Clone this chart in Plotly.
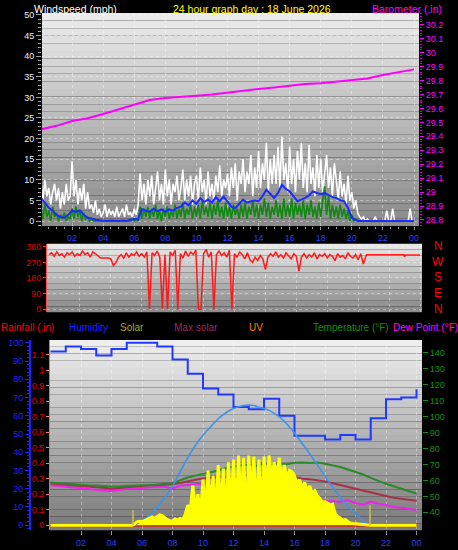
import plotly.graph_objects as go

W, H = 458, 550
def fx(p): return p / W
def fy(p): return 1 - p / H

# ------------------------------------------------------------------ DATA
hour_ticks = [2, 4, 6, 8, 10, 12, 14, 16, 18, 20, 22, 24]
hour_tick_text = ["02", "04", "06", "08", "10", "12", "14", "16", "18", "20", "22", "00"]

# barometer (inHg), hourly 0..24
baro_hours = list(range(25))
baro_in = [29.45, 29.475, 29.51, 29.53, 29.56, 29.595, 29.63, 29.66, 29.675, 29.68,
           29.69, 29.70, 29.715, 29.73, 29.74, 29.75, 29.765, 29.775, 29.78, 29.79,
           29.80, 29.815, 29.84, 29.86, 29.88]

# wind gust (mph), 8 samples per hour
gust_mph = [9, 5, 10, 6, 8, 4, 7, 9,
            5, 8, 3, 7, 4, 9, 5, 6,
            14.5, 6, 10, 4, 8, 5, 9, 3,
            7, 3, 4, 2, 5, 1.5, 3, 1,
            2, 4, 1, 3, 1.5, 2.5, 1, 3.5,
            1, 2, 3, 1, 4, 1.5, 2, 1,
            3, 1.5, 4, 11.5, 5, 9, 4, 10,
            6, 11, 4, 8, 12, 5, 9, 4,
            12.5, 6, 10, 4, 9, 7, 11, 5,
            8, 12.5, 5, 10, 6, 11, 4, 9,
            11, 5, 13, 7, 10, 4, 12, 6,
            9, 5, 11, 7, 13.5, 6, 10, 8,
            11.5, 6, 13, 8, 14, 5, 12, 9,
            15, 7, 12, 9, 16, 6, 13, 8,
            17, 8, 14, 10, 19, 7, 15, 9,
            16, 9, 18, 8, 20.5, 10, 14, 7,
            18, 9, 15, 7, 17, 10, 19, 8,
            14, 7, 18.5, 9, 13, 6, 16, 8,
            15, 7, 12, 16, 8, 13, 6, 14,
            10, 5, 12, 6, 9, 4, 11, 5,
            7, 3, 5, 2, 1, 0.5, 1, 0,
            0.5, 0, 0, 0, 1, 0, 0, 0,
            0, 0, 2.5, 0, 0, 3, 0, 0,
            0, 0, 0, 0, 0, 0, 3, 0,
            0]

# wind speed (mph), 8 samples per hour
wind_speed_mph = [3, 0.5, 4, 1, 2.5, 0, 3.5, 1,
                  2, 0, 1.5, 0.5, 2, 0, 1, 0.5,
                  3, 0.5, 3.5, 1, 2.5, 0, 2, 0.5,
                  1, 0, 0.5, 0, 0, 0, 0, 0,
                  0, 0, 0, 0, 0, 0, 0, 0,
                  0, 0, 0, 0, 0, 0, 0, 0.5,
                  0, 0.5, 0, 3.5, 0.5, 3, 1, 3.5,
                  0.5, 3, 1, 4, 0.5, 2.5, 0, 3,
                  1, 3.5, 0.5, 2.5, 1, 4, 0.5, 3,
                  1, 4.5, 0.5, 3, 1.5, 4, 0.5, 3.5,
                  1, 4, 0.5, 5, 1.5, 3.5, 1, 4.5,
                  0.5, 4, 1.5, 5, 1, 3.5, 0.5, 4.5,
                  1, 3.5, 0.5, 4, 1.5, 3, 0.5, 4,
                  1, 4.5, 0.5, 3.5, 1.5, 5, 1, 4,
                  0.5, 4, 1.5, 5.5, 1, 4.5, 0.5, 3.5,
                  1.5, 5, 1, 4, 0.5, 5.5, 1, 4,
                  1, 5.5, 0.5, 4.5, 1.5, 4, 1, 5,
                  0.5, 4, 1.5, 5, 1, 3.5, 0.5, 4.5,
                  1, 5, 8.4, 1.5, 6, 0.5, 4, 1,
                  3.5, 0.5, 4, 1, 3, 0.5, 2.5, 0,
                  1.5, 0, 0.5, 0, 0, 0, 0, 0,
                  0, 0, 0, 0, 0, 0, 0, 0,
                  0, 0, 0, 0, 0, 0, 0, 0,
                  0, 0, 0, 0, 0, 0, 0, 0,
                  0]

# average wind speed (mph), 4 samples per hour
wind_avg_mph = [5.6, 4.5, 3.2, 2.5,  1.5, 1.0, 0.8, 1.5,  2.5, 2.2, 2.6, 1.5,
                0.8, 0.6, 0.3, 0.2,  0.1, 0.0, 0.1, 0.0,  0.0, 0.1, 0.0, 0.3,
                0.5, 0.4, 2.9, 2.5,  2.2, 3.0, 2.4, 2.8,  2.2, 2.8, 2.5, 3.2,
                3.5, 4.5, 3.8, 5.0,  4.2, 5.5, 4.6, 5.2,  4.5, 5.8, 4.8, 5.9,
                4.8, 3.5, 3.1, 4.2,  5.2, 4.5, 4.8, 5.0,  4.8, 6.0, 7.6, 6.5,
                5.6, 6.8, 8.8, 7.8,  7.2, 6.0, 4.8, 5.2,  5.6, 6.2, 7.2, 6.8,
                6.5, 6.8, 6.2, 5.8,  5.6, 5.0, 4.8, 3.2,  0.8, 0.2, 0.0, 0.0,
                0, 0, 0, 0,  0, 0, 0, 0,  0, 0, 0, 0,  0]

# wind direction (deg), 6 samples per hour from 0h to 20.5h
dir_deg = [315, 325, 305, 330, 310, 320,
           300, 325, 315, 330, 305, 320,
           310, 335, 315, 325, 300, 330,
           320, 310, 295, 295, 295, 295,
           290, 252, 270, 300, 315, 295,
           325, 300, 320, 310, 330, 305,
           320, 300, 330, 0, 325, 310,
           335, 300, 0, 315, 0, 330,
           310, 340, 0, 320, 295, 335,
           305, 330, 315, 340, 0, 0,
           320, 345, 300, 330, 0, 315,
           335, 310, 325, 300, 340, 0,
           320, 300, 330, 315, 290, 325,
           285, 270, 300, 280, 310, 290,
           228, 300, 320, 305, 330, 300,
           315, 295, 325, 310, 290, 320,
           305, 220, 300, 320, 295, 315,
           300, 325, 290, 315, 305, 320,
           295, 315, 305, 280, 320, 300,
           310, 290, 325, 305, 295, 315,
           285, 320, 260, 305]
dir_tail_h = [20.55, 22.95, 23.0, 23.05, 24.0]
dir_tail_deg = [314, 314, 302, 312, 312]

# humidity (%), hourly 0..24
hum_hours = list(range(25))
humidity = [95.3, 98, 96.6, 93, 96.6, 100, 100, 98, 90.8, 83, 75, 71.7, 64.8,
            63.6, 69.4, 60, 49, 49, 47, 49.5, 47, 58.7, 69, 70, 74.5]

# rainfall (in), hourly
rain_in = [0.0, 0.0, 0.0, 0.0, 0.0, 0.0, 0.0, 0.0, 0.0, 0.0, 0.0, 0.0, 0.0,
           0.0, 0.0, 0.0, 0.0, 0.0, 0.0, 0.0, 0.0, 0.0, 0.0, 0.0, 0.0]

# max solar (W/m2)
maxsolar_h = [5.54, 6.0, 6.52, 7.18, 7.84, 8.49, 9.15, 9.8, 10.46, 11.1, 11.88, 12.54,
              13.2, 13.74, 14.39, 15.05, 15.7, 16.36, 17.0, 17.67, 18.33, 18.98,
              19.64, 20.3, 20.84]
maxsolar_wm2 = [0, 25, 56, 120, 192, 292, 391, 473, 536, 591, 636, 654,
                658, 645, 627, 591, 536, 464, 391, 310, 228, 156, 92, 38, 0]

# solar (W/m2), 6 samples per hour from 5h to 21h
solar_wm2 = [0, 0, 0, 5, 18, 22,
             20, 25, 32, 40, 45, 38,
             48, 56, 52, 40, 30, 25,
             22, 35, 28, 38, 30, 60,
             110, 80, 219, 90, 170, 60,
             250, 70, 300, 110, 270, 60,
             330, 90, 310, 40, 345, 100,
             360, 60, 382, 110, 370, 27,
             382, 150, 376, 90, 360, 65,
             376, 200, 382, 255, 345, 260,
             370, 240, 330, 250, 300, 293,
             270, 230, 250, 205, 235, 190,
             215, 175, 190, 160, 147, 125,
             129, 120, 110, 115, 65, 47,
             40, 27, 30, 20, 12, 9,
             8, 6, 4, 2, 0, 0,
             0]
sun_marks_h = [5.41, 20.95]
sun_marks_wm2 = [83, 110]

# temperature, apparent temperature, dew point (F), half-hourly 0..24
temp_f = [58.7, 58.3, 57.8, 57.4, 57.2, 57.0, 56.8, 56.4, 56.2, 56.3, 56.6, 56.8,
          57.0, 57.0, 57.3, 57.6, 58.2, 60.0, 61.8, 63.0, 64.0, 65.4, 66.2, 67.6,
          68.6, 69.5, 69.8, 69.2, 70.6, 69.6, 70.5, 70.2, 71.0, 71.2, 70.9, 71.2,
          70.5, 69.6, 68.4, 66.8, 65.3, 63.7, 61.6, 59.5, 57.8, 56.3, 54.8, 53.4, 51.8]
apparent_f = [58.0, 57.6, 57.2, 56.8, 56.5, 56.0, 55.6, 55.2, 54.9, 55.3, 55.8, 56.2,
              56.6, 57.0, 57.0, 57.2, 57.6, 58.4, 59.6, 60.4, 61.2, 61.5, 62.2, 62.0,
              62.8, 61.2, 64.3, 62.2, 64.0, 65.3, 64.3, 63.2, 61.7, 61.0, 60.8, 60.2,
              59.4, 58.2, 57.0, 55.8, 54.6, 53.6, 52.2, 51.0, 50.2, 49.2, 48.6, 47.8, 47.2]
dew_f = [57.0, 56.6, 56.2, 55.6, 55.2, 54.8, 54.2, 53.6, 53.3, 54.0, 54.8, 55.0,
         55.4, 55.6, 56.0, 56.0, 55.0, 56.6, 57.2, 57.6, 58.0, 58.4, 59.2, 57.6,
         58.8, 55.2, 59.0, 56.0, 58.6, 55.6, 58.2, 54.4, 50.0, 50.8, 49.8, 47.8,
         47.6, 47.0, 46.6, 47.6, 45.8, 44.8, 46.8, 45.4, 44.6, 43.4, 42.8, 41.9, 41.4]

# ------------------------------------------------------------------ TIME AXES
gust_h = [i / 8 for i in range(len(gust_mph))]
speed_h = [i / 8 for i in range(len(wind_speed_mph))]
avg_h = [i / 4 for i in range(len(wind_avg_mph))]
dir_h = [i / 6 for i in range(len(dir_deg))] + dir_tail_h
dir_all = dir_deg + dir_tail_deg
solar_h = [0] + [5 + i / 6 for i in range(len(solar_wm2))] + [24]
solar_all = [0] + solar_wm2 + [0]
half_h = [i / 2 for i in range(len(temp_f))]

FONT = "Liberation Sans, Arial, sans-serif"

fig = go.Figure()

# ---------------- panel 1
fig.add_trace(go.Scatter(x=baro_hours, y=baro_in, mode="lines", xaxis="x", yaxis="y2",
                         line=dict(color="#ff00ff", width=2)))
fig.add_trace(go.Scatter(x=gust_h, y=gust_mph, mode="lines", xaxis="x", yaxis="y",
                         line=dict(color="#ffffff", width=1.6)))
fig.add_trace(go.Scatter(x=speed_h, y=wind_speed_mph, mode="lines", xaxis="x", yaxis="y",
                         line=dict(color="#118811", width=1.6)))
fig.add_trace(go.Scatter(x=avg_h, y=wind_avg_mph, mode="lines", xaxis="x", yaxis="y",
                         line=dict(color="#1a2cff", width=2)))

# ---------------- panel 2
fig.add_trace(go.Scatter(x=dir_h, y=dir_all, mode="lines", xaxis="x2", yaxis="y3",
                         line=dict(color="#ff1a1a", width=1.5)))

# ---------------- panel 3
fig.add_trace(go.Scatter(x=solar_h, y=solar_all, mode="lines", xaxis="x3", yaxis="y7",
                         fill="tozeroy", fillcolor="#ffff00", line=dict(width=0, color="#ffff00")))
fig.add_trace(go.Scatter(x=maxsolar_h, y=maxsolar_wm2, mode="lines", xaxis="x3", yaxis="y7",
                         line=dict(color="#3a94ee", width=1.6, shape="spline")))
fig.add_trace(go.Scatter(x=list(range(25)), y=rain_in, mode="lines", xaxis="x3", yaxis="y4",
                         line=dict(color="#ff0000", width=2.5)))
fig.add_trace(go.Scatter(x=solar_h, y=solar_all, mode="lines", xaxis="x3", yaxis="y7",
                         line=dict(color="#ffff00", width=3)))
fig.add_trace(go.Scatter(x=[sun_marks_h[0], sun_marks_h[0], None, sun_marks_h[1], sun_marks_h[1]],
                         y=[0, sun_marks_wm2[0], None, 0, sun_marks_wm2[1]],
                         mode="lines", xaxis="x3", yaxis="y7",
                         line=dict(color="#c8c050", width=1.5)))
fig.add_trace(go.Scatter(x=hum_hours, y=humidity, mode="lines", xaxis="x3", yaxis="y5",
                         line=dict(color="#2038ff", width=2, shape="hv")))
fig.add_trace(go.Scatter(x=half_h, y=dew_f, mode="lines", xaxis="x3", yaxis="y6",
                         line=dict(color="#ee22ee", width=2)))
fig.add_trace(go.Scatter(x=half_h, y=apparent_f, mode="lines", xaxis="x3", yaxis="y6",
                         line=dict(color="#a8304a", width=2)))
fig.add_trace(go.Scatter(x=half_h, y=temp_f, mode="lines", xaxis="x3", yaxis="y6",
                         line=dict(color="#2a8a2a", width=2)))

# ---------------- gradient backgrounds
def hexmix(c1, c2, t):
    a = [int(c1[i:i + 2], 16) for i in (1, 3, 5)]
    b = [int(c2[i:i + 2], 16) for i in (1, 3, 5)]
    return "#%02x%02x%02x" % tuple(round(a[k] + (b[k] - a[k]) * t) for k in range(3))

shapes = []
def gradient(xl, xr, yt, yb, ctop, cbot, n=28):
    for i in range(n):
        y0 = yt + (yb - yt) * i / n
        y1 = yt + (yb - yt) * (i + 1) / n
        shapes.append(dict(type="rect", xref="paper", yref="paper", layer="below",
                           x0=fx(xl), x1=fx(xr), y0=fy(y1), y1=fy(y0),
                           fillcolor=hexmix(ctop, cbot, i / (n - 1)), line=dict(width=0)))

gradient(42, 419, 10, 225, "#ebebeb", "#8a8a8a")
gradient(47, 422, 243, 312, "#e6e6e6", "#8c8c8c", n=12)
gradient(50, 422, 340, 532, "#eeeeee", "#7a7a7a")

# ---------------- annotations
ann = []
def text(x, y, s, color, size=10.5, anchor="left"):
    ann.append(dict(x=fx(x), y=fy(y), xref="paper", yref="paper", text=s, showarrow=False,
                    xanchor=anchor, yanchor="middle", font=dict(family=FONT, size=size, color=color)))

text(32, 6, "Windspeed (mph)", "#ffffff")
text(252, 6, "24 hour graph day : 18 June 2026", "#ffff00", anchor="center")
text(370, 6, "Barometer (.in)", "#ff00ff")
for s, yy in zip(["N", "W", "S", "E", "N"], [245, 261, 277, 293, 309]):
    text(438, yy, s, "#ff0000", size=12, anchor="center")
text(-1, 327, "Rainfall (.in)", "#ff0000", size=10)
text(67, 327, "Humidity", "#2020ff", size=10)
text(118, 327, "Solar", "#a8a828", size=10)
text(172, 327, "Max solar", "#b02050", size=10)
text(247, 327, "UV", "#ff8000", size=10)
text(311, 327, "Temperature (°F)", "#109010", size=10)
text(391, 327, "Dew Point (°F)", "#ff00ff", size=10)

# ---------------- axes
s1 = (414 - 41) / 24
s2 = (420 - 49) / 24
s3 = (416.5 - 50.5) / 24
grid = dict(showgrid=True, gridcolor="rgba(255,255,255,0.38)", griddash="dot", gridwidth=1)
tf = lambda c: dict(family=FONT, size=9, color=c)

layout = dict(
    width=W, height=H, margin=dict(l=0, r=0, t=0, b=0),
    paper_bgcolor="#000000", plot_bgcolor="rgba(0,0,0,0)", showlegend=False,
    shapes=shapes, annotations=ann,
    xaxis=dict(domain=[fx(42), fx(419)], anchor="y", range=[(42 - 41) / s1, (419 - 41) / s1],
               tickvals=hour_ticks, ticktext=hour_tick_text, tickfont=tf("#2a3cff"),
               ticks="outside", ticklen=3, tickcolor="#909090",
               minor=dict(ticks="outside", ticklen=2, dtick=0.5, tickcolor="#909090"),
               zeroline=False, **grid),
    yaxis=dict(domain=[fy(225), fy(10)], anchor="x", range=[-1.2, 50.5], dtick=5, tick0=0,
               tickfont=tf("#e8eeff"), ticks="outside", ticklen=5, tickcolor="#a0a0a0",
               minor=dict(ticks="outside", ticklen=3, dtick=1, tickcolor="#a0a0a0"),
               zeroline=False, **grid),
    yaxis2=dict(overlaying="y", anchor="x", side="right", range=[28.757, 30.285],
                dtick=0.1, tick0=28.8, tickfont=tf("#ff00ff"), ticks="outside", ticklen=4,
                tickcolor="#ff00ff", minor=dict(ticks="outside", ticklen=2, dtick=0.02, tickcolor="#cc00cc"),
                showgrid=False, zeroline=False),
    xaxis2=dict(domain=[fx(47), fx(422)], anchor="y3", range=[(47 - 49) / s2, (422 - 49) / s2],
                tickvals=hour_ticks, showticklabels=False, ticks="", zeroline=False, **grid),
    yaxis3=dict(domain=[fy(312), fy(243)], anchor="x2", range=[-17, 377],
                tickvals=[0, 90, 180, 270, 360], tickfont=tf("#dd0000"), ticks="outside",
                ticklen=3, tickcolor="#ff3030", showline=True, linecolor="#ff5050", linewidth=1,
                zeroline=False, **grid),
    xaxis3=dict(domain=[fx(50), fx(422)], anchor="y4", range=[(50 - 50.5) / s3, (422 - 50.5) / s3],
                tickvals=hour_ticks, ticktext=hour_tick_text, tickfont=tf("#2a3cff"),
                ticks="outside", ticklen=4, tickcolor="#909090", zeroline=False, **grid),
    yaxis4=dict(domain=[fy(532), fy(340)], anchor="x3", side="left", range=[-0.032, 1.196],
                dtick=0.1, tick0=0, tickfont=tf("#dd0000"), ticks="outside", ticklen=3,
                tickcolor="#ff7070", showline=True, linecolor="#ff6060", linewidth=1,
                showgrid=False, zeroline=False),
    yaxis5=dict(overlaying="y4", anchor="free", position=fx(30), side="left",
                range=[-2.72, 101.6], dtick=10, tick0=0, tickfont=tf("#2020ff"),
                ticks="outside", ticklen=4, tickcolor="#2020ff", showline=True,
                linecolor="#2020ff", linewidth=2,
                minor=dict(ticks="outside", ticklen=2, dtick=2, tickcolor="#2020ff"),
                showgrid=False, zeroline=False),
    yaxis6=dict(overlaying="y4", anchor="x3", side="right", range=[28.82, 148.07],
                tickvals=[40, 50, 60, 70, 80, 90, 100, 110, 120, 130, 140],
                tickfont=tf("#109010"), ticks="outside", ticklen=5, tickcolor="#109010",
                showgrid=False, zeroline=False),
    yaxis7=dict(overlaying="y4", anchor="x3", range=[-27.2, 1016], visible=False),
)
fig.update_layout(**layout)

fig.write_html("out.html", config={"displayModeBar": False},
               post_script="document.body.style.margin='0';document.body.style.overflow='hidden';")
